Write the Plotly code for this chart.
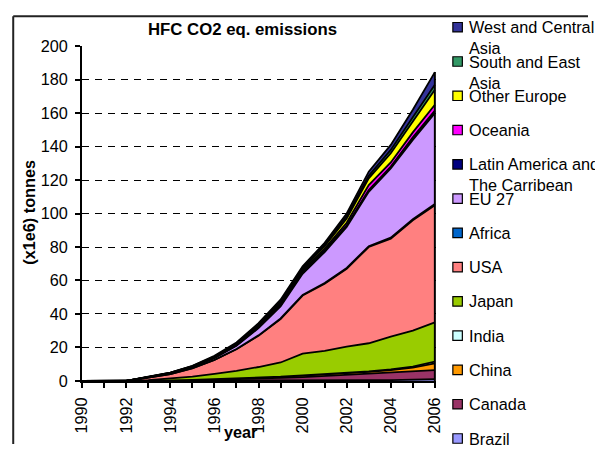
import plotly.graph_objects as go

years = list(range(1990, 2007))

# stacking order bottom -> top
series_names = ["Brazil", "Canada", "China", "India", "Japan", "USA", "Africa",
                "EU 27", "Latin America and The Carribean", "Oceania",
                "Other Europe", "South and East Asia", "West and Central Asia"]
legend_labels = ["Brazil", "Canada", "China", "India", "Japan", "USA", "Africa",
                 "EU 27", "Latin America and<br>The Carribean", "Oceania",
                 "Other Europe", "South and East<br>Asia", "West and Central<br>Asia"]
colors = ["#9999FF", "#993366", "#FF9900", "#CCFFFF", "#99CC00", "#FF8080", "#0066CC",
          "#CC99FF", "#000080", "#FF00FF", "#FFFF00", "#339966", "#333399"]

brazil = [0, 0, 0, 0, 0, 0, 0, 0, 0, 0, 0.1, 0.2, 0.3, 0.4, 0.5, 0.7, 1.0]
canada = [0, 0, 0, 0, 0.2, 0.4, 0.6, 0.9, 1.3, 1.8, 2.2, 2.8, 3.5, 4.1, 4.7, 5.1, 5.5]
china = [0, 0, 0, 0.1, 0.1, 0.2, 0.4, 0.5, 0.6, 0.7, 0.9, 0.8, 0.8, 0.9, 1.3, 2.2, 4.0]
india = [0, 0, 0, 0, 0, 0, 0, 0, 0, 0, 0.1, 0.2, 0.2, 0.3, 0.4, 0.5, 1.0]
japan = [0, 0, 0, 0.4, 1.0, 1.9, 3.2, 4.6, 6.4, 8.5, 13.0, 14.0, 15.7, 16.8, 19.6, 21.5, 23.5]
usa = [0, 0, 0, 1.5, 2.7, 5.0, 8.3, 13.0, 18.7, 26.0, 34.7, 40.0, 46.5, 57.5, 58.5, 66.0, 70.0]
africa = [0, 0, 0, 0, 0, 0.1, 0.1, 0.1, 0.2, 0.3, 0.4, 0.5, 0.5, 0.5, 0.6, 0.6, 0.7]
eu27 = [0, 0, 0, 0.3, 0.5, 0.7, 1.0, 1.9, 4.3, 7.2, 12.6, 18.5, 24.5, 32.5, 41.4, 47.4, 54.3]
latin = [0, 0, 0, 0, 0.1, 0.1, 0.2, 0.3, 0.5, 0.7, 1.0, 1.0, 1.0, 1.0, 1.0, 1.5, 1.5]
oceania = [0, 0, 0, 0, 0.1, 0.1, 0.2, 0.2, 0.3, 0.6, 0.7, 1.0, 1.5, 3.0, 2.5, 3.0, 3.5]
other_europe = [0, 0, 0, 0.1, 0.1, 0.2, 0.3, 0.5, 0.7, 1.0, 1.1, 1.5, 2.5, 4.0, 5.5, 6.5, 9.0]
se_asia = [0, 0, 0, 0, 0.1, 0.1, 0.2, 0.3, 0.5, 0.5, 0.7, 0.8, 1.5, 1.5, 2.0, 2.5, 3.0]
wc_asia = [0, 0, 0, 0.1, 0.1, 0.2, 0.5, 0.7, 1.0, 1.2, 1.0, 1.2, 1.5, 2.5, 3.0, 4.5, 7.5]

values = [brazil, canada, china, india, japan, usa, africa, eu27, latin,
          oceania, other_europe, se_asia, wc_asia]

y_ticks = list(range(0, 201, 20))

# The photographed page comes out scaled by about 595/612 x 453/470 and the
# page keeps an 8px body margin; positions below are given in target pixels.
SX, SY = 595 / 612, 453 / 470
OFF = 8
W, H = 595, 453
FONT = "Arial, Liberation Sans, sans-serif"
FS = 15.8 / SX


def px(x):
    return ((x - 1) / SX - OFF) / W


def py(y):
    return 1 - (y / SY - OFF) / H


fig = go.Figure()
for name, col, vals in zip(series_names, colors, values):
    fig.add_trace(go.Scatter(
        x=years, y=vals, name=name, stackgroup="one", mode="lines",
        line=dict(color="black", width=1.8), fillcolor=col,
        showlegend=False, hoverinfo="skip"))

# right-hand edge of the stacked area (Excel draws the border round the area)
total_last = sum(v[-1] for v in values)
fig.add_trace(go.Scatter(x=[years[-1], years[-1]], y=[0, total_last], mode="lines",
                         line=dict(color="black", width=2), showlegend=False,
                         hoverinfo="skip"))

shapes = [
    dict(type="line", xref="paper", yref="paper", x0=px(12), x1=px(12), y0=py(15), y1=0,
         line=dict(color="#222222", width=2)),
    dict(type="line", xref="paper", yref="paper", x0=px(12), x1=1, y0=py(15), y1=py(15),
         line=dict(color="#222222", width=2)),
]
annotations = [
    dict(text="<b>HFC CO2 eq. emissions</b>", xref="paper", yref="paper",
         x=px(241), y=py(28.5), xanchor="center", yanchor="middle", showarrow=False,
         font=dict(family=FONT, size=16.3 / SX, color="black")),
    dict(text="<b>(x1e6) tonnes</b>", xref="paper", yref="paper", textangle=-90,
         x=px(27), y=py(212), xanchor="center", yanchor="middle", showarrow=False,
         font=dict(family=FONT, size=FS, color="black")),
    dict(text="<b>year</b>", xref="paper", yref="paper",
         x=px(239.5), y=py(432), xanchor="center", yanchor="middle", showarrow=False,
         font=dict(family=FONT, size=FS, color="black")),
]

# legend (top entry is the top series)
n = len(series_names)
for i in range(n):
    k = n - 1 - i
    cy = 26 + 34.4 * i
    shapes.append(dict(type="rect", xref="paper", yref="paper",
                       x0=px(452), x1=px(461.5), y0=py(cy - 4.75), y1=py(cy + 4.75),
                       fillcolor=colors[k], line=dict(color="black", width=1.2)))
    annotations.append(dict(text=legend_labels[k], xref="paper", yref="paper",
                            x=px(466), y=py(cy - 11), xanchor="left", yanchor="top",
                            align="left", showarrow=False,
                            font=dict(family=FONT, size=FS, color="black")))

fig.update_layout(
    width=W, height=H, margin=dict(l=0, r=0, t=0, b=0),
    paper_bgcolor="white", plot_bgcolor="white",
    font=dict(family=FONT, size=FS, color="black"),
    showlegend=False, shapes=shapes, annotations=annotations,
    xaxis=dict(domain=[px(81), px(435.1)], range=[1990, 2006.05],
               tickmode="linear", tick0=1990, dtick=2, tickangle=-90,
               ticks="outside", ticklen=5, tickwidth=1.5, tickcolor="black",
               minor=dict(dtick=1, ticks="outside", ticklen=5, tickwidth=1.5,
                          tickcolor="black"),
               showline=True, linecolor="black", linewidth=2, showgrid=False,
               zeroline=False, ticklabelstandoff=3,
               tickfont=dict(family=FONT, size=FS, color="black")),
    yaxis=dict(domain=[py(381), py(45)], range=[0, 200], tickvals=y_ticks,
               ticks="outside", ticklen=5, tickwidth=1.5, tickcolor="black",
               showline=True, linecolor="black", linewidth=2,
               showgrid=True, gridcolor="black", gridwidth=1, griddash="7px,6px",
               zeroline=False, ticklabelstandoff=4,
               tickfont=dict(family=FONT, size=FS, color="black")),
)

fig.write_html("out.html")
